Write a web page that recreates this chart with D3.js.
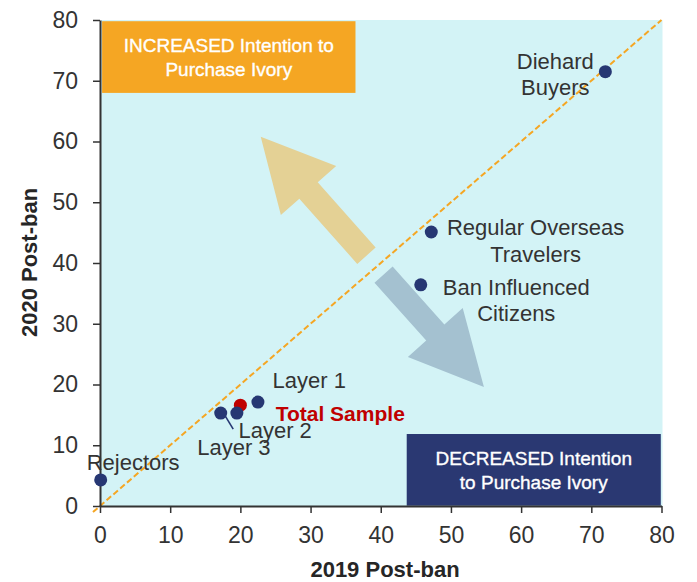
<!DOCTYPE html>
<html>
<head>
<meta charset="utf-8">
<script src="https://cdn.jsdelivr.net/npm/d3@7"></script>
<style>
  body { margin: 0; background: #fff; }
  svg { display: block; }
</style>
</head>
<body>
<svg id="chart"></svg>
<script>
// Segment positions: 2019 post-ban vs 2020 post-ban
const segments = ['Diehard Buyers', 'Regular Overseas Travelers', 'Ban Influenced Citizens', 'Layer 1', 'Layer 2', 'Layer 3', 'Rejectors'];
const post2019 = [72.0, 47.2, 45.7, 22.5, 19.5, 17.2, 0.1];
const post2020 = [71.5, 45.1, 36.4, 17.1, 15.3, 15.3, 4.3];

const totalName = ['Total Sample'];
const total2019 = [20.0];
const total2020 = [16.6];

const xTicks = [0, 10, 20, 30, 40, 50, 60, 70, 80];
const yTicks = [0, 10, 20, 30, 40, 50, 60, 70, 80];

const boxTexts = [['INCREASED Intention to', 'Purchase Ivory'], ['DECREASED Intention', 'to Purchase Ivory']];

const width = 697;
const height = 582;
const margin = { top: 20, right: 35, bottom: 76, left: 100 };

const svg = d3.select('#chart')
  .attr('width', width)
  .attr('height', height);

const x = d3.scaleLinear().domain([0, 80]).range([margin.left, width - margin.right - 0.5]);
const y = d3.scaleLinear().domain([0, 80]).range([height - margin.bottom, margin.top]);

const font = '"Liberation Sans", Arial, sans-serif';

// plot background
svg.append('rect')
  .attr('x', x(0) + 1)
  .attr('y', y(80))
  .attr('width', x(80) - x(0))
  .attr('height', y(0) - y(80))
  .attr('fill', '#d3f3f6');

// corner boxes
const boxes = [
  { x0: 0.3, x1: 36.4, y0: 68.0, y1: 79.8, fill: '#f5a623', lines: boxTexts[0] },
  { x0: 43.7, x1: 79.9, y0: 0.05, y1: 11.85, fill: '#2a3872', lines: boxTexts[1] }
];
boxes.forEach(b => {
  svg.append('rect')
    .attr('x', x(b.x0))
    .attr('y', y(b.y1))
    .attr('width', x(b.x1) - x(b.x0))
    .attr('height', y(b.y0) - y(b.y1))
    .attr('fill', b.fill);
  const cx = (x(b.x0) + x(b.x1)) / 2;
  const top = y(b.y1);
  svg.append('g').selectAll('text')
    .data(b.lines)
    .join('text')
    .attr('x', cx)
    .attr('y', (d, i) => top + 31 + i * 23.5)
    .attr('text-anchor', 'middle')
    .attr('fill', '#fff')
    .attr('stroke', '#fff')
    .attr('stroke-width', 0.35)
    .style('font-family', font)
    .style('font-size', '19px')
    .text(d => d);
});

// arrows
function arrowPath(a) {
  const t0 = [x(a.tail[0]), y(a.tail[1])];
  const t1 = [x(a.tip[0]), y(a.tip[1])];
  const len = Math.hypot(t1[0] - t0[0], t1[1] - t0[1]);
  const u = [(t1[0] - t0[0]) / len, (t1[1] - t0[1]) / len];
  const n = [-u[1], u[0]];
  const hb = [t1[0] - u[0] * a.head, t1[1] - u[1] * a.head];
  const p = (c, k) => [c[0] + n[0] * k, c[1] + n[1] * k];
  const pts = [p(t0, a.shaft / 2), p(hb, a.shaft / 2), p(hb, a.headW / 2), t1,
    p(hb, -a.headW / 2), p(hb, -a.shaft / 2), p(t0, -a.shaft / 2)];
  return d3.line()(pts) + 'Z';
}
const arrows = [
  { tail: [37.96, 41.2], tip: [22.9, 60.8], shaft: 24.6, headW: 74, head: 72, fill: '#e4d195' },
  { tail: [40.4, 38.1], tip: [54.7, 19.6], shaft: 24.3, headW: 73.5, head: 73, fill: '#a4c1d0' }
];
svg.append('g').selectAll('path')
  .data(arrows)
  .join('path')
  .attr('d', arrowPath)
  .attr('fill', d => d.fill);

// y = x reference line
svg.append('line')
  .attr('x1', x(-1)).attr('y1', y(-1))
  .attr('x2', x(80)).attr('y2', y(80))
  .attr('stroke', '#f5a623')
  .attr('stroke-width', 2)
  .attr('stroke-dasharray', '6,3');

// axes
const xAxis = svg.append('g')
  .attr('transform', `translate(0,${y(0)})`)
  .call(d3.axisBottom(x).tickValues(xTicks).tickSize(7).tickSizeOuter(0).tickPadding(14));
const yAxis = svg.append('g')
  .attr('transform', `translate(${x(0)},0)`)
  .call(d3.axisLeft(y).tickValues(yTicks).tickSize(7).tickSizeOuter(0).tickPadding(15));
[xAxis, yAxis].forEach(g => {
  g.select('.domain').attr('stroke', '#333').attr('stroke-width', 2);
  g.selectAll('.tick line').attr('stroke', '#333').attr('stroke-width', 1.5);
  g.selectAll('.tick text')
    .attr('fill', '#333')
    .style('font-family', font)
    .style('font-size', '23px');
});

// axis titles
svg.append('text')
  .attr('x', 385)
  .attr('y', 577)
  .attr('text-anchor', 'middle')
  .attr('fill', '#262626')
  .style('font-family', font)
  .style('font-weight', 'bold')
  .style('font-size', '22px')
  .text('2019 Post-ban');
svg.append('text')
  .attr('transform', 'translate(36.5,262.5) rotate(-90)')
  .attr('text-anchor', 'middle')
  .attr('fill', '#262626')
  .style('font-family', font)
  .style('font-weight', 'bold')
  .style('font-size', '22px')
  .text('2020 Post-ban');

// label placement (pixel offsets from each point)
const labelLayout = {
  'Diehard Buyers': { lines: ['Diehard', 'Buyers'], anchor: 'middle', dx: -50, dy: [-3, 23.7] },
  'Regular Overseas Travelers': { lines: ['Regular Overseas', 'Travelers'], anchor: 'middle', dx: 104.3, dy: [3.3, 30] },
  'Ban Influenced Citizens': { lines: ['Ban Influenced', 'Citizens'], anchor: 'middle', dx: 95.5, dy: [10, 35.7] },
  'Layer 1': { lines: ['Layer 1'], anchor: 'start', dx: 14.7, dy: [-14.3] },
  'Layer 2': { lines: ['Layer 2'], anchor: 'start', dx: 1.6, dy: [24.5] },
  'Layer 3': { lines: ['Layer 3'], anchor: 'start', dx: -23.5, dy: [42] },
  'Rejectors': { lines: ['Rejectors'], anchor: 'start', dx: -14, dy: [-10] }
};

const pts = segments.map((name, i) => ({ name, x: post2019[i], y: post2020[i] }));
const totalPts = totalName.map((name, i) => ({ name, x: total2019[i], y: total2020[i] }));

// leader line for Layer 3
const l3 = pts.find(d => d.name === 'Layer 3');
svg.append('line')
  .attr('x1', x(l3.x) + 4).attr('y1', y(l3.y) + 2)
  .attr('x2', x(l3.x) + 12.5).attr('y2', y(l3.y) + 16)
  .attr('stroke', '#263773')
  .attr('stroke-width', 1.6);

// total sample point (drawn underneath)
svg.append('g').selectAll('circle')
  .data(totalPts)
  .join('circle')
  .attr('cx', d => x(d.x))
  .attr('cy', d => y(d.y))
  .attr('r', 6.5)
  .attr('fill', '#c00000');

svg.append('g').selectAll('circle')
  .data(pts)
  .join('circle')
  .attr('cx', d => x(d.x))
  .attr('cy', d => y(d.y))
  .attr('r', 6.5)
  .attr('fill', '#263773');

// segment labels
pts.forEach(d => {
  const L = labelLayout[d.name];
  svg.append('g').selectAll('text')
    .data(L.lines)
    .join('text')
    .attr('x', x(d.x) + L.dx)
    .attr('y', (t, i) => y(d.y) + L.dy[i])
    .attr('text-anchor', L.anchor)
    .attr('fill', '#333')
    .style('font-family', font)
    .style('font-size', '22px')
    .text(t => t);
});

svg.append('g').selectAll('text')
  .data(totalPts)
  .join('text')
  .attr('x', d => x(d.x) + 35.3)
  .attr('y', d => y(d.y) + 15.7)
  .attr('fill', '#c00000')
  .style('font-family', font)
  .style('font-weight', 'bold')
  .style('font-size', '21px')
  .text(d => d.name);
</script>
</body>
</html>
